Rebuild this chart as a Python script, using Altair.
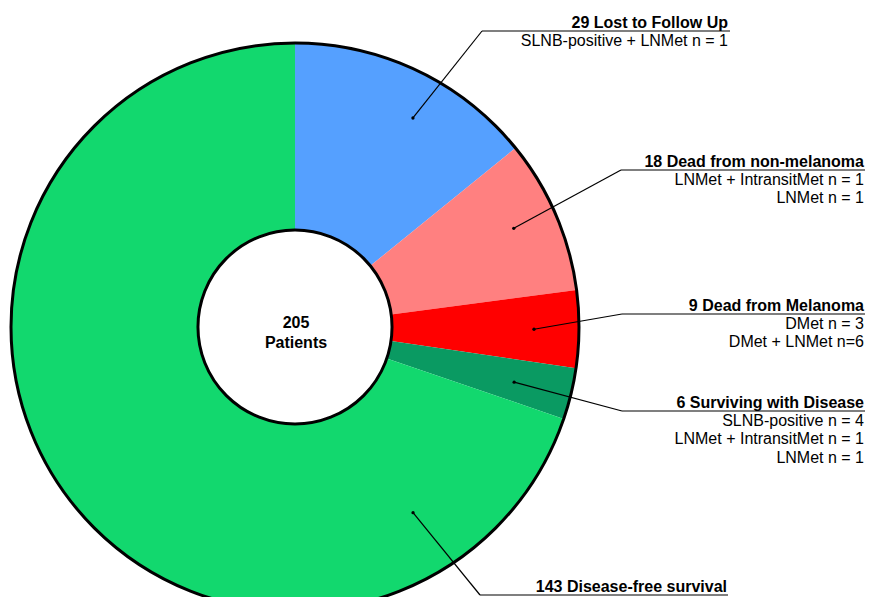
import altair as alt
import pandas as pd

# ---------------- data ----------------
CATEGORIES = ["Lost to Follow Up", "Dead from non-melanoma", "Dead from Melanoma",
              "Surviving with Disease", "Disease-free survival"]
COUNTS = [29, 18, 9, 6, 143]
COLORS = ["#55A0FF", "#FF8080", "#FF0000", "#0A9A62", "#12D86E"]
DETAILS = [
    ["SLNB-positive + LNMet n = 1"],
    ["LNMet + IntransitMet n = 1", "LNMet n = 1"],
    ["DMet n = 3", "DMet + LNMet n=6"],
    ["SLNB-positive n = 4", "LNMet + IntransitMet n = 1", "LNMet n = 1"],
    [],
]
CENTER_LINES = ["205", "Patients"]

# ---------------- layout ----------------
W, H = 857, 589
CX, CY = 287, 319
R_OUT, R_IN = 284, 97
ANCHOR_FRAC = [0.578, 0.468, 0.506, 0.55, 0.154]
ANCHOR_R = [240, 240, 239, 226, 220]
ELBOW_X = [474, 613, 614, 614, 472]
ELBOW_Y = [23, 162, 306, 403, 587]
LINE_END = [722, 857, 857, 857, 720]
TEXT_RIGHT = [720, 856, 856, 856, 719]
FONT = "Liberation Sans"

titles = [f"{n} {c}" for n, c in zip(COUNTS, CATEGORIES)]

df = pd.DataFrame({
    "idx": list(range(len(COUNTS))),
    "category": CATEGORIES,
    "n": COUNTS,
    "frac": ANCHOR_FRAC,
    "ar": ANCHOR_R,
    "ex": ELBOW_X,
    "ey": ELBOW_Y,
    "lx": LINE_END,
})

title_rows = []
detail_rows = []
for i, t in enumerate(titles):
    title_rows.append({"text": t, "tx": TEXT_RIGHT[i], "ty": ELBOW_Y[i] - 3})
    for k, line in enumerate(DETAILS[i]):
        detail_rows.append({"text": line, "tx": TEXT_RIGHT[i], "ty": ELBOW_Y[i] + 15 + 18.3 * k})
titles_df = pd.DataFrame(title_rows)
details_df = pd.DataFrame(detail_rows)
center_df = pd.DataFrame({"text": CENTER_LINES, "ty": [320, 340]})
one = pd.DataFrame({"a": [0]})

xs = alt.Scale(domain=[0, W], nice=False, zero=False)
ys = alt.Scale(domain=[0, H], reverse=True, nice=False, zero=False)

# ---------------- donut ----------------
slices = alt.Chart(df).mark_arc(radius=R_OUT, radius2=R_IN, stroke=None).encode(
    theta=alt.Theta("n:Q", stack=True),
    color=alt.Color("category:N", scale=alt.Scale(domain=CATEGORIES, range=COLORS), legend=None),
    order=alt.Order("idx:Q"),
    x=alt.value(CX),
    y=alt.value(CY),
)

outer_ring = alt.Chart(one).mark_arc(
    radius=R_OUT, radius2=0, theta=0, theta2=6.2832,
    filled=False, stroke="black", strokeWidth=3,
).encode(x=alt.value(CX), y=alt.value(CY))

inner_disc = alt.Chart(one).mark_arc(
    radius=R_IN, radius2=0, theta=0, theta2=6.2832,
    fill="white", stroke="black", strokeWidth=3,
).encode(x=alt.value(CX), y=alt.value(CY))

# ---------------- anchors / leaders ----------------
anch = alt.Chart(df).transform_window(
    cum="sum(n)", sort=[alt.SortField("idx")]
).transform_joinaggregate(
    total="sum(n)"
).transform_calculate(
    ang="(datum.cum - datum.n + datum.frac * datum.n) / datum.total * 2 * PI",
    px=f"{CX} + datum.ar * sin(datum.ang)",
    py=f"{CY} - datum.ar * cos(datum.ang)",
)

leader1 = anch.mark_rule(color="black", strokeWidth=1.2).encode(
    x=alt.X("px:Q", scale=xs, axis=None),
    y=alt.Y("py:Q", scale=ys, axis=None),
    x2="ex:Q",
    y2="ey:Q",
)
leader2 = anch.mark_rule(color="black", strokeWidth=1.2).encode(
    x=alt.X("ex:Q", scale=xs, axis=None),
    y=alt.Y("ey:Q", scale=ys, axis=None),
    x2="lx:Q",
)
dots = anch.mark_circle(size=11, color="black", opacity=1).encode(
    x=alt.X("px:Q", scale=xs, axis=None),
    y=alt.Y("py:Q", scale=ys, axis=None),
)

# ---------------- texts ----------------
title_text = alt.Chart(titles_df).mark_text(
    align="right", baseline="alphabetic", font=FONT, fontSize=16, fontWeight="bold", color="black"
).encode(
    x=alt.X("tx:Q", scale=xs, axis=None),
    y=alt.Y("ty:Q", scale=ys, axis=None),
    text="text:N",
)
detail_text = alt.Chart(details_df).mark_text(
    align="right", baseline="alphabetic", font=FONT, fontSize=16, color="black"
).encode(
    x=alt.X("tx:Q", scale=xs, axis=None),
    y=alt.Y("ty:Q", scale=ys, axis=None),
    text="text:N",
)
center_text = alt.Chart(center_df).mark_text(
    align="center", baseline="alphabetic", font=FONT, fontSize=16, fontWeight="bold", color="black"
).encode(
    x=alt.value(CX + 1),
    y=alt.Y("ty:Q", scale=ys, axis=None),
    text="text:N",
)

chart = alt.layer(
    slices, outer_ring, inner_disc, leader1, leader2, dots, title_text, detail_text, center_text
).properties(
    width=W, height=H, padding=0, autosize=alt.AutoSizeParams(type="none"), background="white"
).configure_view(stroke=None)

chart.save("out.html", embed_options={"renderer": "svg", "actions": False})
